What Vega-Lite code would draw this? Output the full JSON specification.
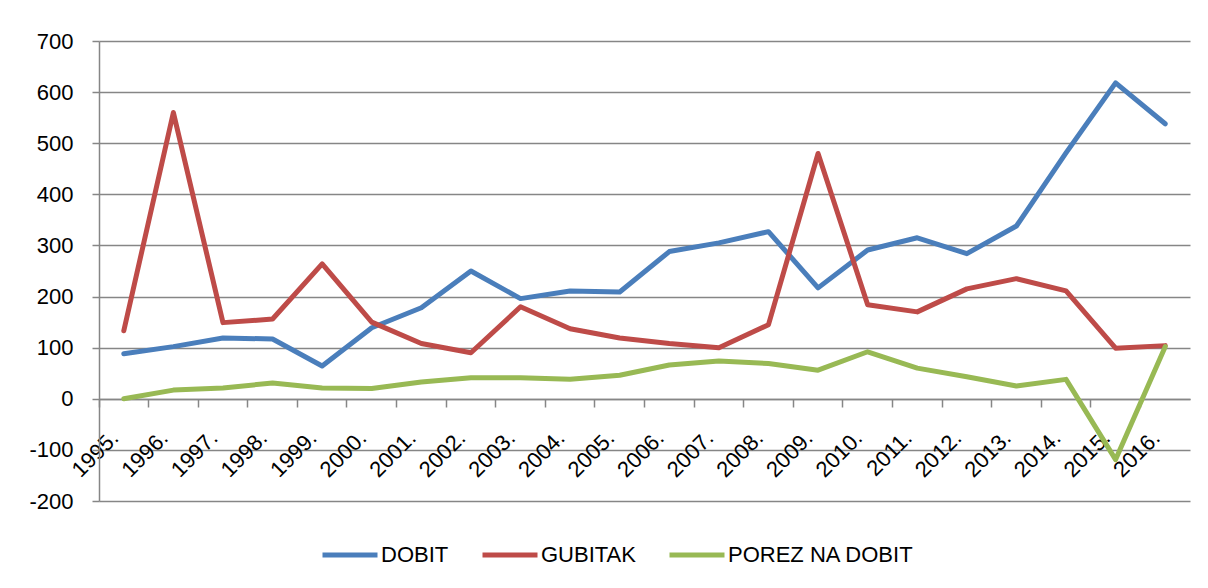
{
  "$schema": "https://vega.github.io/schema/vega-lite/v6.json",
  "autosize": "none",
  "width": 1091,
  "height": 460,
  "padding": {"left": 99, "top": 41, "right": 18, "bottom": 87},
  "background": "white",
  "config": {
    "view": {"stroke": null},
    "font": "Liberation Sans"
  },
  "data": {
    "values": [
      {"year": "1995.", "series": "DOBIT", "value": 88},
      {"year": "1996.", "series": "DOBIT", "value": 102},
      {"year": "1997.", "series": "DOBIT", "value": 119},
      {"year": "1998.", "series": "DOBIT", "value": 117},
      {"year": "1999.", "series": "DOBIT", "value": 64},
      {"year": "2000.", "series": "DOBIT", "value": 139},
      {"year": "2001.", "series": "DOBIT", "value": 178},
      {"year": "2002.", "series": "DOBIT", "value": 250},
      {"year": "2003.", "series": "DOBIT", "value": 196},
      {"year": "2004.", "series": "DOBIT", "value": 211},
      {"year": "2005.", "series": "DOBIT", "value": 209},
      {"year": "2006.", "series": "DOBIT", "value": 288},
      {"year": "2007.", "series": "DOBIT", "value": 305},
      {"year": "2008.", "series": "DOBIT", "value": 327},
      {"year": "2009.", "series": "DOBIT", "value": 217},
      {"year": "2010.", "series": "DOBIT", "value": 291},
      {"year": "2011.", "series": "DOBIT", "value": 315},
      {"year": "2012.", "series": "DOBIT", "value": 284},
      {"year": "2013.", "series": "DOBIT", "value": 338},
      {"year": "2014.", "series": "DOBIT", "value": 481},
      {"year": "2015.", "series": "DOBIT", "value": 618},
      {"year": "2016.", "series": "DOBIT", "value": 538},
      {"year": "1995.", "series": "GUBITAK", "value": 133},
      {"year": "1996.", "series": "GUBITAK", "value": 560},
      {"year": "1997.", "series": "GUBITAK", "value": 149},
      {"year": "1998.", "series": "GUBITAK", "value": 156},
      {"year": "1999.", "series": "GUBITAK", "value": 264},
      {"year": "2000.", "series": "GUBITAK", "value": 150},
      {"year": "2001.", "series": "GUBITAK", "value": 108},
      {"year": "2002.", "series": "GUBITAK", "value": 90},
      {"year": "2003.", "series": "GUBITAK", "value": 180},
      {"year": "2004.", "series": "GUBITAK", "value": 137},
      {"year": "2005.", "series": "GUBITAK", "value": 119},
      {"year": "2006.", "series": "GUBITAK", "value": 108},
      {"year": "2007.", "series": "GUBITAK", "value": 100},
      {"year": "2008.", "series": "GUBITAK", "value": 145},
      {"year": "2009.", "series": "GUBITAK", "value": 480},
      {"year": "2010.", "series": "GUBITAK", "value": 184},
      {"year": "2011.", "series": "GUBITAK", "value": 170},
      {"year": "2012.", "series": "GUBITAK", "value": 215},
      {"year": "2013.", "series": "GUBITAK", "value": 235},
      {"year": "2014.", "series": "GUBITAK", "value": 211},
      {"year": "2015.", "series": "GUBITAK", "value": 99},
      {"year": "2016.", "series": "GUBITAK", "value": 104},
      {"year": "1995.", "series": "POREZ NA DOBIT", "value": 0},
      {"year": "1996.", "series": "POREZ NA DOBIT", "value": 17},
      {"year": "1997.", "series": "POREZ NA DOBIT", "value": 21},
      {"year": "1998.", "series": "POREZ NA DOBIT", "value": 31},
      {"year": "1999.", "series": "POREZ NA DOBIT", "value": 21},
      {"year": "2000.", "series": "POREZ NA DOBIT", "value": 20},
      {"year": "2001.", "series": "POREZ NA DOBIT", "value": 33},
      {"year": "2002.", "series": "POREZ NA DOBIT", "value": 41},
      {"year": "2003.", "series": "POREZ NA DOBIT", "value": 41},
      {"year": "2004.", "series": "POREZ NA DOBIT", "value": 38},
      {"year": "2005.", "series": "POREZ NA DOBIT", "value": 46},
      {"year": "2006.", "series": "POREZ NA DOBIT", "value": 66},
      {"year": "2007.", "series": "POREZ NA DOBIT", "value": 74},
      {"year": "2008.", "series": "POREZ NA DOBIT", "value": 69},
      {"year": "2009.", "series": "POREZ NA DOBIT", "value": 56},
      {"year": "2010.", "series": "POREZ NA DOBIT", "value": 92},
      {"year": "2011.", "series": "POREZ NA DOBIT", "value": 60},
      {"year": "2012.", "series": "POREZ NA DOBIT", "value": 43},
      {"year": "2013.", "series": "POREZ NA DOBIT", "value": 25},
      {"year": "2014.", "series": "POREZ NA DOBIT", "value": 38},
      {"year": "2015.", "series": "POREZ NA DOBIT", "value": -119},
      {"year": "2016.", "series": "POREZ NA DOBIT", "value": 102}
    ]
  },
  "mark": {"type": "line", "strokeWidth": 5, "strokeCap": "round", "strokeJoin": "round"},
  "encoding": {
    "x": {
      "field": "year",
      "type": "ordinal",
      "bandPosition": 0.5,
      "scale": {"type": "band", "paddingInner": 0, "paddingOuter": 0},
      "axis": {
        "title": null,
        "bandPosition": 0,
        "offset": -102,
        "domainColor": "#868686",
        "domainWidth": 1.5,
        "tickColor": "#868686",
        "tickWidth": 1.5,
        "tickSize": 8,
        "labelAngle": -45,
        "labelAlign": "right",
        "labelBaseline": "alphabetic",
        "labelOffset": -4,
        "labelPadding": 32,
        "labelFontSize": 22,
        "labelColor": "#000000",
        "labelFont": "Liberation Sans",
        "labelOverlap": false,
        "labelBound": false,
        "labelFlush": false
      }
    },
    "y": {
      "field": "value",
      "type": "quantitative",
      "scale": {"domain": [-200, 700], "nice": false, "zero": false},
      "axis": {
        "title": null,
        "values": [-200, -100, 0, 100, 200, 300, 400, 500, 600, 700],
        "labelExpr": "datum.value < 0 ? '-' + abs(datum.value) : '' + datum.value",
        "grid": true,
        "gridColor": "#868686",
        "gridWidth": 1.5,
        "domainColor": "#868686",
        "domainWidth": 1.5,
        "tickColor": "#868686",
        "tickWidth": 1.5,
        "tickSize": 7,
        "labelPadding": 19,
        "labelFontSize": 22,
        "labelColor": "#000000",
        "labelFont": "Liberation Sans"
      }
    },
    "color": {
      "field": "series",
      "type": "nominal",
      "scale": {
        "domain": ["DOBIT", "GUBITAK", "POREZ NA DOBIT"],
        "range": ["#4A7EBB", "#BE4B48", "#98B954"]
      },
      "legend": {
        "title": null,
        "orient": "none",
        "direction": "horizontal",
        "legendX": 221,
        "legendY": 484,
        "symbolType": "stroke",
        "symbolSize": 3025,
        "symbolStrokeWidth": 5,
        "labelOffset": 1,
        "columnPadding": 23,
        "labelLimit": 0,
        "labelFontSize": 22,
        "labelColor": "#000000",
        "labelFont": "Liberation Sans"
      }
    }
  }
}
